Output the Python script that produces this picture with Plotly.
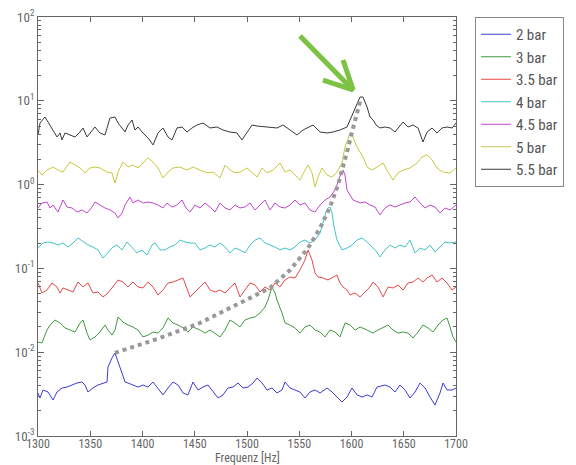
import plotly.graph_objects as go

# ---- data (frequency in Hz, amplitude) ----
f_2 = [1300, 1301.9, 1304.8, 1309.6, 1314.4, 1318.2, 1323.0, 1327.8, 1332.5, 1337.3, 1342.1, 1345.0, 1347.8,
       1352.6, 1357.4, 1362.2, 1366.0, 1367.0, 1370.8, 1373.7, 1376.6, 1380.4, 1383.3, 1386.1, 1390.9, 1395.7,
       1400.5, 1405.3, 1410.1, 1414.8, 1419.6, 1424.4, 1429.2, 1434.0, 1438.8, 1443.5, 1448.3, 1453.1, 1457.9,
       1462.7, 1467.5, 1472.3, 1477.0, 1481.8, 1486.6, 1491.4, 1496.2, 1501.0, 1505.8, 1509.6, 1514.4, 1519.2,
       1523.9, 1528.7, 1533.5, 1536.4, 1541.2, 1545.9, 1550.7, 1555.5, 1560.3, 1565.1, 1569.9, 1576.6, 1581.4,
       1586.1, 1590.9, 1595.7, 1600.5, 1605.3, 1610.1, 1614.9, 1619.6, 1624.4, 1632.1, 1636.9, 1641.6, 1646.4,
       1651.2, 1656.0, 1660.8, 1665.6, 1670.4, 1675.1, 1679.9, 1684.7, 1687.6, 1691.4, 1696.2, 1700]
a_2 = [0.00326, 0.00284, 0.00354, 0.00335, 0.00269, 0.00335, 0.00374, 0.00384, 0.00406, 0.00429, 0.00441, 0.00406, 0.00335,
       0.00374, 0.00406, 0.00429, 0.00441, 0.00666, 0.00853, 0.00978, 0.00764, 0.00565, 0.00441, 0.00429, 0.00406, 0.00384,
       0.00406, 0.00384, 0.00441, 0.00374, 0.00309, 0.00374, 0.00441, 0.00406, 0.00326, 0.00309, 0.00441, 0.00354, 0.00384,
       0.00406, 0.00335, 0.00284, 0.00309, 0.00374, 0.00384, 0.00429, 0.00374, 0.00384, 0.00429, 0.00492, 0.00429, 0.00354,
       0.00374, 0.00326, 0.00354, 0.00441, 0.00374, 0.00354, 0.00335, 0.00284, 0.00335, 0.00354, 0.00326, 0.00374, 0.00335,
       0.00292, 0.00254, 0.00292, 0.00374, 0.00309, 0.00292, 0.00309, 0.00292, 0.00384, 0.00406, 0.00384, 0.00335, 0.00406,
       0.00354, 0.00284, 0.00335, 0.00429, 0.00374, 0.00292, 0.00234, 0.00326, 0.00429, 0.00354, 0.00354, 0.00374]

f_3 = [1300, 1303.8, 1308.6, 1311.5, 1316.3, 1321.1, 1325.8, 1330.6, 1335.4, 1340.2, 1343.1, 1346.9, 1349.8,
       1354.5, 1359.3, 1364.1, 1367.0, 1370.8, 1373.7, 1376.6, 1381.3, 1386.1, 1390.9, 1395.7, 1400.5, 1405.3,
       1410.1, 1414.8, 1419.6, 1424.4, 1429.2, 1434.0, 1438.8, 1443.5, 1448.3, 1455.0, 1459.8, 1464.6, 1469.4,
       1474.2, 1479.0, 1483.7, 1488.5, 1493.3, 1498.1, 1502.9, 1507.7, 1512.5, 1517.2, 1520.1, 1523.9, 1526.8,
       1528.7, 1533.5, 1536.4, 1541.2, 1545.9, 1550.7, 1555.5, 1560.3, 1565.1, 1569.9, 1574.7, 1579.4, 1584.2,
       1589.0, 1593.8, 1598.6, 1603.4, 1608.2, 1614.9, 1620.6, 1625.4, 1630.2, 1635.0, 1639.7, 1644.5, 1649.3,
       1654.1, 1658.9, 1663.7, 1668.4, 1673.2, 1678.0, 1682.8, 1687.6, 1691.4, 1694.3, 1697.2, 1700]
a_3 = [0.0132, 0.0129, 0.0184, 0.0211, 0.0242, 0.0223, 0.0195, 0.0184, 0.0174, 0.0223, 0.0242, 0.0169, 0.0140,
       0.0152, 0.0174, 0.0211, 0.0184, 0.0160, 0.0184, 0.0263, 0.0229, 0.0211, 0.0200, 0.0184, 0.0152, 0.0160,
       0.0174, 0.0169, 0.0195, 0.0256, 0.0223, 0.0211, 0.0195, 0.0174, 0.0200, 0.0184, 0.0169, 0.0184, 0.0169,
       0.0152, 0.0184, 0.0242, 0.0223, 0.0200, 0.0242, 0.0256, 0.0263, 0.0294, 0.0346, 0.0420, 0.0600, 0.0509,
       0.0420, 0.0294, 0.0223, 0.0211, 0.0195, 0.0169, 0.0200, 0.0211, 0.0184, 0.0174, 0.0152, 0.0184, 0.0174,
       0.0152, 0.0223, 0.0211, 0.0184, 0.0200, 0.0184, 0.0169, 0.0184, 0.0195, 0.0211, 0.0184, 0.0169, 0.0174,
       0.0169, 0.0148, 0.0174, 0.0211, 0.0195, 0.0174, 0.0211, 0.0242, 0.0256, 0.0200, 0.0152, 0.0132]

f_35 = [1300, 1303.8, 1308.6, 1313.4, 1318.2, 1321.1, 1323.9, 1328.7, 1333.5, 1338.3, 1343.1, 1347.8, 1352.6,
        1357.4, 1362.2, 1367.0, 1371.8, 1376.6, 1381.3, 1386.1, 1390.9, 1395.7, 1400.5, 1405.3, 1410.1, 1414.8,
        1419.6, 1424.4, 1429.2, 1434.0, 1438.8, 1445.5, 1450.2, 1455.0, 1459.8, 1464.6, 1469.4, 1474.2, 1479.0,
        1483.7, 1488.5, 1493.3, 1498.1, 1502.9, 1507.7, 1512.5, 1517.2, 1522.0, 1526.8, 1531.6, 1536.4, 1541.2,
        1545.9, 1550.7, 1555.5, 1558.4, 1562.2, 1565.1, 1568.0, 1572.7, 1577.5, 1582.3, 1586.1, 1589.0, 1591.9,
        1595.7, 1598.6, 1603.4, 1608.2, 1613.0, 1617.7, 1620.6, 1625.4, 1630.2, 1635.0, 1639.7, 1644.5, 1649.3,
        1654.1, 1658.9, 1663.7, 1668.4, 1672.3, 1677.1, 1681.8, 1686.6, 1691.4, 1696.2, 1700]
a_35 = [0.0670, 0.0509, 0.0552, 0.0670, 0.0600, 0.0509, 0.0584, 0.0552, 0.0523, 0.0688, 0.0600, 0.0670, 0.0509,
        0.0523, 0.0456, 0.0509, 0.0600, 0.0727, 0.0688, 0.0600, 0.0688, 0.0600, 0.0584, 0.0688, 0.0600, 0.0482,
        0.0552, 0.0670, 0.0688, 0.0727, 0.0768, 0.0456, 0.0523, 0.0600, 0.0688, 0.0552, 0.0523, 0.0552, 0.0509,
        0.0584, 0.0670, 0.0456, 0.0552, 0.0670, 0.0634, 0.0523, 0.0600, 0.0552, 0.0670, 0.0600, 0.0727, 0.0789,
        0.0768, 0.0957, 0.126, 0.166, 0.126, 0.0881, 0.0789, 0.0768, 0.0727, 0.0789, 0.0834, 0.0670, 0.0600,
        0.0552, 0.0482, 0.0509, 0.0456, 0.0523, 0.0600, 0.0688, 0.0600, 0.0456, 0.0600, 0.0584, 0.0634, 0.0552,
        0.0670, 0.0688, 0.0768, 0.0688, 0.0768, 0.0834, 0.0688, 0.0768, 0.0670, 0.0552, 0.0600]

f_4 = [1300, 1304.8, 1309.6, 1314.4, 1319.1, 1323.9, 1328.7, 1333.5, 1338.3, 1343.1, 1347.8, 1352.6, 1357.4,
       1362.2, 1367.0, 1371.8, 1375.6, 1380.4, 1385.2, 1390.0, 1394.7, 1399.5, 1404.3, 1409.1, 1412.0, 1416.8,
       1421.5, 1426.3, 1431.1, 1435.9, 1440.7, 1445.5, 1450.2, 1455.0, 1459.8, 1464.6, 1469.4, 1474.2, 1479.0,
       1483.7, 1488.5, 1493.3, 1498.1, 1502.9, 1507.7, 1512.5, 1517.2, 1522.0, 1526.8, 1531.6, 1536.4, 1541.2,
       1545.9, 1550.7, 1555.5, 1560.3, 1565.1, 1569.9, 1572.7, 1575.6, 1577.5, 1579.4, 1581.4, 1583.3, 1586.1,
       1590.9, 1595.7, 1600.5, 1605.3, 1610.1, 1614.9, 1619.6, 1624.4, 1627.3, 1632.1, 1636.9, 1641.6, 1646.4,
       1651.2, 1656.0, 1660.8, 1665.6, 1670.4, 1675.1, 1679.9, 1684.7, 1689.5, 1694.3, 1700]
a_4 = [0.175, 0.201, 0.2065, 0.201, 0.190, 0.201, 0.180, 0.201, 0.231, 0.2065, 0.190, 0.180, 0.166,
       0.133, 0.153, 0.180, 0.190, 0.166, 0.2065, 0.175, 0.153, 0.166, 0.1445, 0.190, 0.201, 0.166,
       0.166, 0.180, 0.190, 0.218, 0.2065, 0.201, 0.201, 0.166, 0.175, 0.190, 0.180, 0.201, 0.180,
       0.153, 0.175, 0.166, 0.153, 0.190, 0.218, 0.231, 0.201, 0.190, 0.180, 0.166, 0.175, 0.166,
       0.180, 0.2065, 0.218, 0.201, 0.218, 0.2645, 0.348, 0.471, 0.526, 0.540, 0.458, 0.312, 0.218,
       0.166, 0.175, 0.190, 0.218, 0.231, 0.2065, 0.180, 0.157, 0.137, 0.166, 0.190, 0.175, 0.190,
       0.180, 0.218, 0.153, 0.175, 0.166, 0.190, 0.157, 0.180, 0.2065, 0.201, 0.2065]

f_45 = [1300, 1303.8, 1308.6, 1311.5, 1314.4, 1319.1, 1323.9, 1327.8, 1332.5, 1337.3, 1342.1, 1346.9, 1351.7,
        1354.5, 1359.3, 1364.1, 1368.9, 1373.7, 1376.6, 1380.4, 1383.3, 1388.0, 1390.9, 1395.7, 1400.5, 1405.3,
        1410.1, 1414.8, 1419.6, 1423.5, 1428.2, 1433.0, 1437.8, 1441.6, 1445.5, 1450.2, 1455.0, 1459.8, 1464.6,
        1469.4, 1474.2, 1479.0, 1483.7, 1488.5, 1493.3, 1498.1, 1502.9, 1507.7, 1512.5, 1517.2, 1522.0, 1526.8,
        1531.6, 1536.4, 1541.2, 1545.9, 1550.7, 1555.5, 1560.3, 1565.1, 1569.9, 1574.7, 1579.4, 1584.2, 1587.1,
        1590.0, 1591.9, 1593.8, 1595.7, 1598.6, 1601.5, 1608.2, 1613.0, 1617.7, 1622.5, 1627.3, 1632.1, 1636.9,
        1641.6, 1646.4, 1651.2, 1656.0, 1660.8, 1665.6, 1670.4, 1675.1, 1679.9, 1684.7, 1689.5, 1694.3, 1700]
a_45 = [0.526, 0.603, 0.620, 0.526, 0.571, 0.471, 0.655, 0.540, 0.526, 0.471, 0.498, 0.458, 0.540,
        0.620, 0.571, 0.526, 0.498, 0.458, 0.400, 0.458, 0.571, 0.711, 0.603, 0.655, 0.603, 0.620,
        0.603, 0.571, 0.526, 0.603, 0.540, 0.571, 0.655, 0.526, 0.471, 0.571, 0.526, 0.603, 0.540,
        0.471, 0.603, 0.526, 0.498, 0.571, 0.526, 0.540, 0.603, 0.498, 0.571, 0.655, 0.498, 0.603,
        0.540, 0.526, 0.571, 0.655, 0.571, 0.603, 0.498, 0.471, 0.571, 0.655, 0.711, 0.862, 1.07,
        1.38, 1.49, 1.30, 0.862, 0.751, 0.655, 0.603, 0.620, 0.571, 0.540, 0.434, 0.526, 0.571,
        0.540, 0.571, 0.603, 0.620, 0.711, 0.603, 0.526, 0.571, 0.540, 0.458, 0.526, 0.498, 0.571]

f_5 = [1300, 1303.8, 1308.6, 1314.4, 1319.1, 1323.9, 1330.6, 1335.4, 1340.2, 1345.0, 1349.8, 1354.5, 1359.3,
       1366.0, 1370.8, 1373.7, 1376.6, 1381.3, 1386.1, 1390.9, 1395.7, 1400.5, 1405.3, 1410.1, 1414.8, 1419.6,
       1424.4, 1429.2, 1435.9, 1442.6, 1448.3, 1455.0, 1461.7, 1467.5, 1474.2, 1479.0, 1483.7, 1488.5, 1493.3,
       1500.0, 1504.8, 1509.6, 1514.4, 1519.2, 1524.9, 1531.6, 1536.4, 1541.2, 1545.9, 1550.7, 1555.5, 1558.4,
       1562.2, 1565.1, 1568.0, 1571.8, 1576.6, 1581.4, 1586.1, 1590.9, 1593.8, 1596.7, 1598.6, 1601.5, 1605.3,
       1608.2, 1611.0, 1614.9, 1619.6, 1624.4, 1630.2, 1635.0, 1639.7, 1644.5, 1649.3, 1656.0, 1662.7, 1667.5,
       1672.3, 1677.1, 1681.8, 1687.6, 1694.3, 1700]
a_5 = [1.49, 1.30, 1.49, 1.62, 1.49, 1.41, 1.86, 1.71, 1.58, 1.38, 1.58, 1.62, 1.58,
       1.41, 1.38, 1.04, 1.41, 1.86, 1.62, 1.71, 1.58, 1.81, 2.08, 1.86, 1.58, 1.20,
       1.41, 1.58, 1.62, 1.49, 1.62, 1.49, 1.38, 1.41, 1.20, 1.71, 1.49, 1.38, 1.41,
       1.58, 1.41, 1.23, 1.58, 1.38, 1.49, 1.81, 1.41, 1.49, 1.30, 1.13, 1.49, 1.71,
       1.38, 0.936, 1.23, 1.58, 1.30, 1.23, 1.41, 1.81, 2.81, 3.60, 4.13, 3.70, 2.81,
       2.45, 2.13, 1.62, 1.49, 1.62, 1.81, 1.41, 1.13, 1.38, 1.49, 1.58, 1.81, 2.13,
       2.26, 1.97, 1.58, 1.41, 1.38, 1.58]

f_55 = [1300, 1301.9, 1306.7, 1309.6, 1314.4, 1318.2, 1321.1, 1323.0, 1325.8, 1330.6, 1335.4, 1340.2, 1343.1,
        1346.9, 1351.7, 1354.5, 1359.3, 1364.1, 1368.9, 1373.7, 1376.6, 1380.4, 1383.3, 1386.1, 1390.0, 1392.8,
        1395.7, 1400.5, 1405.3, 1410.1, 1414.8, 1419.6, 1424.4, 1428.2, 1433.0, 1437.8, 1442.6, 1447.4, 1452.2,
        1457.9, 1464.6, 1471.3, 1477.0, 1483.7, 1490.4, 1495.2, 1500.0, 1504.8, 1509.6, 1519.2, 1528.7, 1534.5,
        1541.2, 1547.9, 1553.6, 1563.2, 1569.9, 1576.6, 1582.3, 1589.0, 1595.7, 1598.6, 1601.5, 1605.3, 1608.2,
        1611.0, 1614.9, 1617.7, 1620.6, 1623.5, 1627.3, 1632.1, 1636.9, 1641.6, 1646.4, 1649.3, 1654.1, 1658.9,
        1663.7, 1668.4, 1672.3, 1677.1, 1681.8, 1686.6, 1691.4, 1696.2, 1700]
a_55 = [3.91, 5.43, 6.41, 5.58, 4.48, 3.70, 4.13, 3.41, 4.13, 3.91, 3.70, 4.24, 4.74,
        3.70, 4.48, 4.87, 4.13, 3.91, 6.23, 6.41, 5.43, 4.74, 4.24, 5.14, 5.90, 4.48,
        4.87, 4.13, 3.60, 2.97, 4.13, 4.74, 3.70, 3.41, 4.74, 4.87, 4.24, 4.74, 5.14,
        5.43, 4.74, 4.87, 4.48, 4.24, 4.13, 3.41, 4.24, 5.14, 5.00, 4.87, 4.74, 5.14,
        4.48, 3.91, 4.48, 5.14, 4.24, 4.13, 4.24, 4.48, 4.87, 5.90, 7.15, 9.41, 11.1,
        11.1, 8.43, 6.41, 5.90, 5.14, 4.74, 4.87, 4.74, 4.24, 5.14, 5.58, 4.87, 5.14,
        4.74, 3.22, 4.24, 4.74, 4.13, 4.74, 4.87, 4.74, 5.43]

series_names = ["2 bar", "3 bar", "3.5 bar", "4 bar", "4.5 bar", "5 bar", "5.5 bar"]
series_freq = [f_2, f_3, f_35, f_4, f_45, f_5, f_55]
series_amp = [a_2, a_3, a_35, a_4, a_45, a_5, a_55]
series_colors = ["#3c3cd8", "#3f9a3f", "#e94848", "#40c6c6", "#c445d2", "#c9c93e", "#3a3a3a"]

# dotted trend through the resonance peaks
trend_f = [1373.7, 1416.8, 1455.0, 1474.2, 1498.1, 1522.0, 1541.2, 1558.4, 1569.9, 1579.4,
           1587.1, 1591.9, 1596.7, 1600.5, 1605.3, 1609.1]
trend_a = [0.0098, 0.0148, 0.0223, 0.0294, 0.0408, 0.0584, 0.0957, 0.175, 0.303, 0.540,
           0.989, 1.58, 2.73, 4.24, 6.77, 10.8]

# green arrow annotation (shaft, then chevron head)
arrow_f = [1550.7, 1601.5, None, 1591.9, 1601.5, 1572.7]
arrow_a = [59.3, 13.5, None, 30.7, 13.5, 17.7]

y_tickvals = [1e-3, 1e-2, 1e-1, 1e0, 1e1, 1e2]
y_ticktext = ["10<sup>-3</sup>", "10<sup>-2</sup>", "10<sup>-1</sup>", "10<sup>0</sup>", "10<sup>1</sup>", "10<sup>2</sup>"]
y_minor = [m * 10.0 ** e for e in range(-3, 2) for m in range(2, 10)]
x_tickvals = [1300, 1350, 1400, 1450, 1500, 1550, 1600, 1650, 1700]
x_title = "Frequenz [Hz]"

fig = go.Figure()
for name, fx, ay, col in zip(series_names, series_freq, series_amp, series_colors):
    fig.add_trace(go.Scatter(x=fx, y=ay, mode="lines", name=name,
                             line=dict(color=col, width=1)))

fig.add_trace(go.Scatter(x=trend_f, y=trend_a, mode="lines", showlegend=False,
                         line=dict(color="#999999", width=4, dash="dot"), hoverinfo="skip"))
fig.add_trace(go.Scatter(x=arrow_f, y=arrow_a, mode="lines", showlegend=False,
                         line=dict(color="#7cc243", width=5), hoverinfo="skip"))

axis_col = "#666666"
narrow = "Liberation Sans Narrow, Roboto Condensed, Roboto, DejaVu Sans"
x_tick_font = dict(family=narrow, size=12, color="#666666")
y_tick_font = dict(family=narrow, size=13, color="#666666")

fig.update_layout(
    width=576, height=465,
    margin=dict(l=38, r=120, t=17, b=29, autoexpand=False),
    paper_bgcolor="white", plot_bgcolor="white",
    showlegend=True,
    legend=dict(x=1.0455, xanchor="left", y=1, yanchor="top",
                bordercolor="#888888", borderwidth=1, bgcolor="white",
                font=dict(family=narrow, size=15, color="#555555")),
    xaxis=dict(range=[1300, 1700], tickmode="array", tickvals=x_tickvals, automargin=False,
               ticks="inside", ticklen=5, tickcolor=axis_col, showline=True, linecolor=axis_col,
               linewidth=1, mirror="ticks", showgrid=False, zeroline=False, tickfont=x_tick_font,
               ticklabelstandoff=-3),
    yaxis=dict(type="log", range=[-3, 2], tickmode="array", tickvals=y_tickvals, ticktext=y_ticktext,
               automargin=False,
               ticks="inside", ticklen=6, tickcolor=axis_col, showline=True, linecolor=axis_col,
               linewidth=1, mirror="ticks", showgrid=False, zeroline=False, tickfont=y_tick_font,
               minor=dict(tickmode="array", tickvals=y_minor, ticks="inside", ticklen=3,
                          tickcolor=axis_col, showgrid=False)),
    annotations=[dict(text=x_title, xref="paper", yref="paper", x=0.5, y=-0.0525,
                      xanchor="center", yanchor="middle", showarrow=False,
                      font=dict(family=narrow, size=12, color="#666666"))],
)

fig.write_html("out.html")
